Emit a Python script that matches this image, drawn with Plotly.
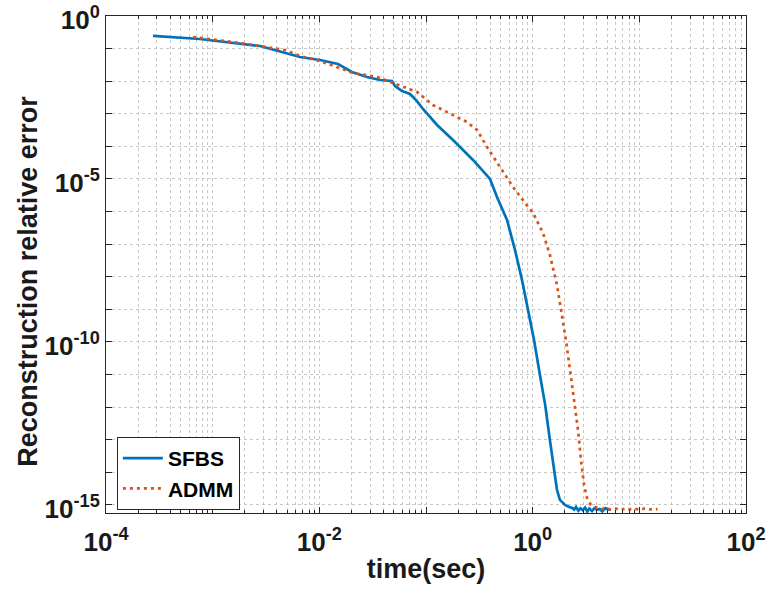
import plotly.graph_objects as go

# SFBS: reconstruction relative error versus elapsed time (s)
sfbs_time = [2.76e-4, 7.6e-4, 2.78e-3, 3.84e-3, 6.59e-3, 0.01015, 0.01496, 0.0202,
             0.0280, 0.0371, 0.0480, 0.0512, 0.0596, 0.0708, 0.0805, 0.0937, 0.127,
             0.179, 0.276, 0.398, 0.463, 0.575, 0.683, 0.794, 0.904, 1.03, 1.17,
             1.31, 1.45, 1.58, 1.69, 1.80, 2.01, 2.20, 2.34, 2.45, 2.55, 2.68, 2.80,
             2.95, 3.10, 3.25, 3.40, 3.60, 3.80, 4.00, 4.25, 4.50, 4.80, 5.10, 5.30]
sfbs_error = [0.244, 0.197, 0.120, 0.0906, 0.0552, 0.0447, 0.0337, 0.0191,
              0.01346, 0.01089, 0.01014, 0.00713, 0.00500, 0.00405, 0.00265, 0.00140, 4.53e-4,
              1.57e-4, 3.83e-5, 1.0e-5, 2.8e-6, 5.5e-7, 6.6e-8, 8.0e-9, 9.6e-10, 1.15e-10, 9.7e-12,
              1.17e-12, 9.9e-14, 1.19e-14, 2.9e-15, 1.42e-15, 1.0e-15, 8.6e-16, 8.1e-16, 7.2e-16, 8.6e-16, 6.6e-16, 7.8e-16,
              6.9e-16, 8.3e-16, 6.2e-16, 7.7e-16, 6.5e-16, 8.0e-16, 7.1e-16, 7.5e-16, 6.3e-16, 7.9e-16, 7.3e-16, 6.9e-16]

# ADMM: reconstruction relative error versus elapsed time (s)
admm_time = [6.55e-4, 1.80e-3, 4.76e-3, 6.59e-3, 0.01015, 0.0207, 0.0348, 0.0491,
             0.0824, 0.116, 0.157, 0.242, 0.301, 0.373, 0.494, 0.654, 0.848, 1.007,
             1.25, 1.45, 1.69, 1.88, 2.05, 2.24, 2.44, 2.66, 2.84, 3.03, 3.23, 3.52,
             4.01, 4.40, 4.90, 5.40, 6.00, 6.70, 7.40, 8.20, 9.10, 10.0, 11.2, 12.4,
             13.6, 14.8]
admm_error = [0.227, 0.149, 0.0906, 0.0593, 0.0417, 0.01786, 0.01346, 0.00881,
              0.00467, 0.00186, 0.00114, 5.6e-4, 3.18e-4, 9.6e-5, 2.33e-5, 5.7e-6, 1.84e-6, 9.1e-7,
              2.2e-7, 4.7e-8, 5.6e-9, 6.7e-10, 1.15e-10, 1.38e-11, 1.66e-12, 2.0e-13, 2.4e-14, 4.1e-15, 1.64e-15, 1.0e-15,
              8.1e-16, 7.4e-16, 7.9e-16, 7.2e-16, 7.7e-16, 7.0e-16, 7.8e-16, 7.3e-16, 7.6e-16, 7.1e-16, 7.7e-16, 7.2e-16,
              7.5e-16, 7.3e-16]

x_decades = list(range(-4, 3))
y_decades = list(range(0, -16, -1))

AXIS_COLOR = "#262626"
GRID_COLOR = "#c8c8c8"
TEXT_COLOR = "#1a1a1a"
FONT = "Liberation Sans, Arial, Helvetica, sans-serif"

# tick marks on every decade, labels on every other (x) / every fifth (y)
x_major = [10.0 ** k for k in x_decades]
x_text = [f"<b>10<sup>{k}</sup></b>" if k % 2 == 0 else "" for k in x_decades]
x_minor = [m * 10.0 ** k for k in x_decades[:-1] for m in range(2, 10)]

y_major = [10.0 ** k for k in y_decades]
y_text = [f"<b>10<sup>{k}</sup></b>" if k % 5 == 0 else "" for k in y_decades]

fig = go.Figure()
fig.add_trace(go.Scatter(
    x=sfbs_time, y=sfbs_error, mode="lines", name="SFBS",
    line=dict(color="#0072BD", width=2.7),
))
fig.add_trace(go.Scatter(
    x=admm_time, y=admm_error, mode="lines", name="ADMM",
    line=dict(color="#D95319", width=2.7, dash="3px,4px"),
))

axis_common = dict(
    automargin=False,
    showline=True, linecolor=AXIS_COLOR, linewidth=1, mirror="allticks",
    ticks="inside", tickcolor=AXIS_COLOR, ticklen=6, tickwidth=1,
    showgrid=True, gridcolor=GRID_COLOR, griddash="dot", gridwidth=1,
    zeroline=False, ticklabeloverflow="allow",
    tickfont=dict(family=FONT, size=26, color=TEXT_COLOR),
    title_font=dict(family=FONT, size=27, color=TEXT_COLOR),
)

fig.update_xaxes(
    type="log", range=[-4, 2],
    tickmode="array", tickvals=x_major, ticktext=x_text,
    minor=dict(tickmode="array", tickvals=x_minor, ticks="inside", ticklen=3,
               tickcolor=AXIS_COLOR, showgrid=True, gridcolor=GRID_COLOR,
               griddash="dot", gridwidth=1),
    ticklabelstandoff=6,
    title=dict(text="<b>time(sec)</b>", standoff=2),
    **axis_common,
)
fig.update_yaxes(
    type="log", range=[-15.25, 0.0001],
    tickmode="array", tickvals=y_major, ticktext=y_text,
    ticklabelshift=4,
    **axis_common,
)

# y-axis title, set slightly below the axis midpoint
fig.add_annotation(
    text="<b>Reconstruction relative error</b>", textangle=-90,
    xref="paper", yref="paper", x=-0.122, y=0.467,
    xanchor="center", yanchor="middle", showarrow=False,
    font=dict(family=FONT, size=27, color=TEXT_COLOR),
)

fig.update_layout(
    template="none",
    width=768, height=596,
    margin=dict(l=106, r=22, t=16, b=83),
    plot_bgcolor="white", paper_bgcolor="white",
    font=dict(family=FONT, color=TEXT_COLOR),
    legend=dict(
        x=0.017, y=0.006, xanchor="left", yanchor="bottom",
        bgcolor="white", bordercolor=AXIS_COLOR, borderwidth=1,
        font=dict(family=FONT, size=21, color="#000000", weight="bold"),
        itemwidth=40, tracegroupgap=0,
    ),
    showlegend=True,
)

fig.write_html("out.html")
